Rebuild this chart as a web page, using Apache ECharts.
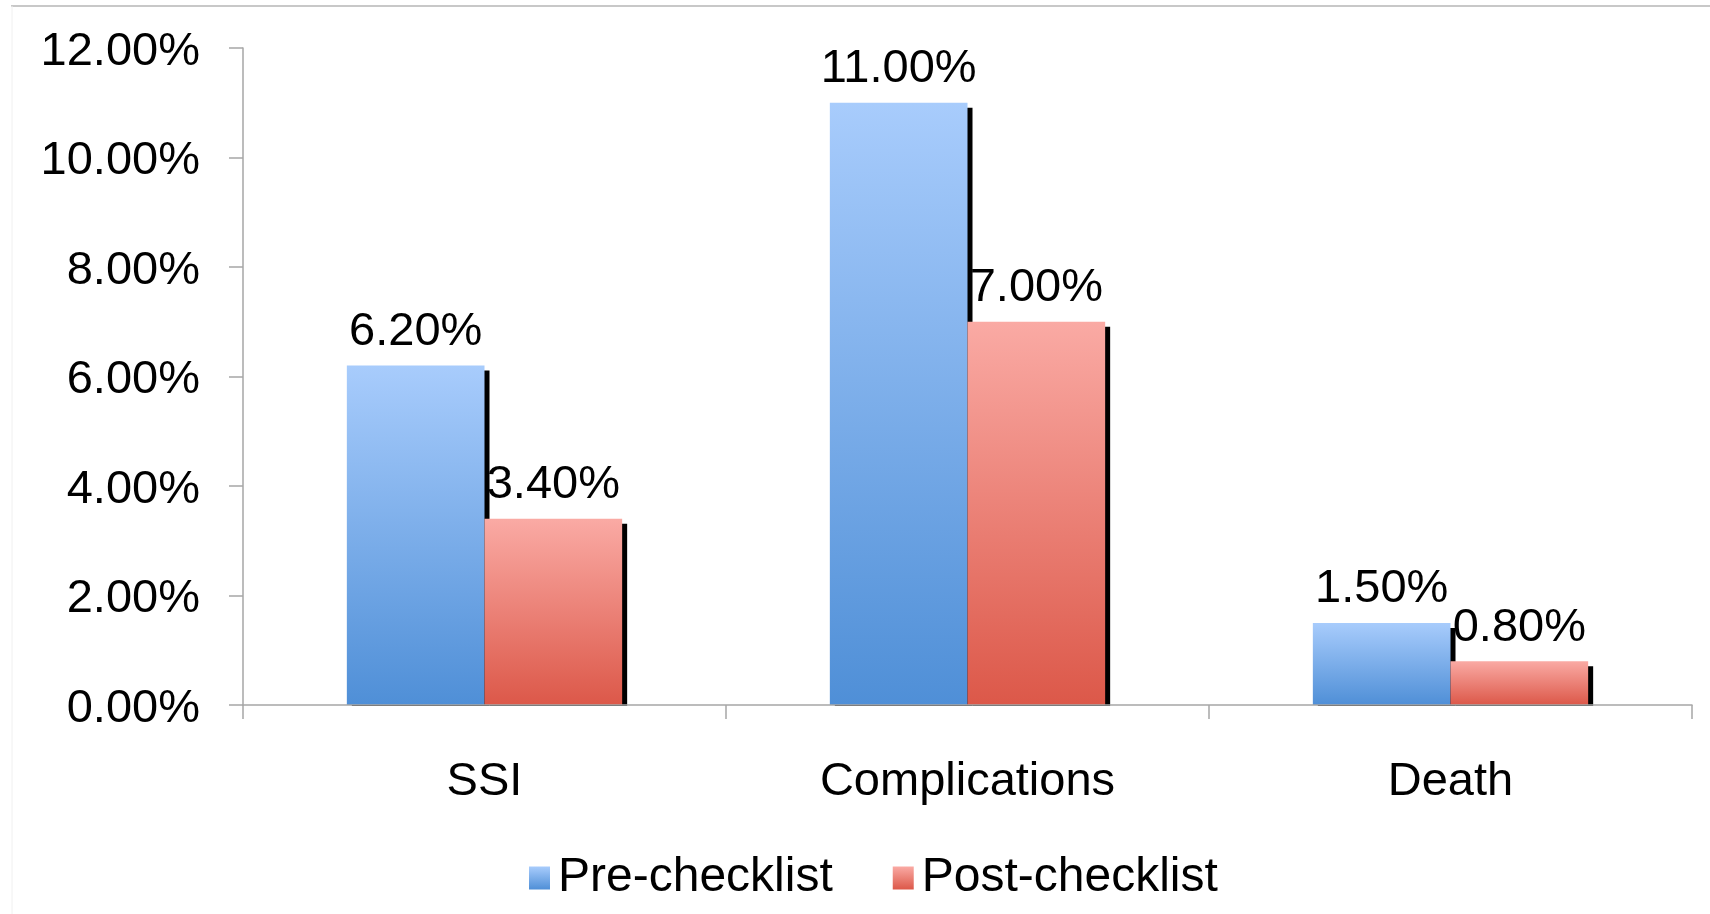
<!DOCTYPE html>
<html>
<head>
<meta charset="utf-8">
<title>Checklist outcomes</title>
<script src="https://cdn.jsdelivr.net/npm/echarts@6/dist/echarts.min.js"></script>
<style>
  html, body { margin: 0; padding: 0; background: #ffffff; }
  #chart { width: 1710px; height: 914px; }
</style>
</head>
<body>
<div id="chart"></div>
<script>
// Outcome rates before and after introducing the surgical checklist (percent)
const categories = ['SSI', 'Complications', 'Death'];
const preChecklist = [6.2, 11.0, 1.5];
const postChecklist = [3.4, 7.0, 0.8];
const seriesNames = ['Pre-checklist', 'Post-checklist'];
const yTicks = { min: 0, max: 12, interval: 2 };

const FONT = "'Liberation Sans', Arial, sans-serif";
const fmtPct = v => Number(v).toFixed(2) + '%';

function vGradient(top, bottom) {
  return new echarts.graphic.LinearGradient(0, 0, 0, 1, [
    { offset: 0, color: top },
    { offset: 1, color: bottom }
  ]);
}

const barStyle = (top, bottom) => ({
  color: vGradient(top, bottom),
  shadowColor: '#000000',
  shadowBlur: 0,
  shadowOffsetX: 5,
  shadowOffsetY: 5
});

const valueLabel = {
  show: true,
  position: 'top',
  distance: 10,
  color: '#000000',
  fontFamily: FONT,
  fontSize: 47,
  formatter: p => fmtPct(p.value)
};

const chart = echarts.init(document.getElementById('chart'), null, { renderer: 'canvas' });

const gridLeft = 243, gridRight = 18, gridTop = 48, gridBottom = 209;

chart.setOption({
  backgroundColor: '#ffffff',
  animation: false,
  textStyle: { fontFamily: FONT },
  grid: { left: gridLeft, right: gridRight, top: gridTop, bottom: gridBottom, containLabel: false },
  graphic: [
    // thin frame along the top and left edge of the slide
    { type: 'line', z: 1, shape: { x1: 11, y1: 6, x2: 1710, y2: 6 }, style: { stroke: '#c8c8c8', lineWidth: 2 } },
    { type: 'line', z: 1, shape: { x1: 12, y1: 6, x2: 12, y2: 914 }, style: { stroke: '#f0f0f0', lineWidth: 1 } },
    // keeps the bar shadows from running below the baseline
    { type: 'rect', z: 5, shape: { x: gridLeft + 1, y: 914 - gridBottom + 1, width: 1710 - gridLeft, height: 7 }, style: { fill: '#ffffff' } }
  ],
  legend: {
    data: seriesNames,
    left: 524,
    top: 849,
    itemWidth: 21,
    itemHeight: 23,
    itemGap: 60,
    icon: 'rect',
    textStyle: { color: '#000000', fontFamily: FONT, fontSize: 48, padding: [0, 0, 0, 3] },
    itemStyle: { shadowBlur: 0, shadowOffsetX: 0, shadowOffsetY: 0, shadowColor: 'rgba(0,0,0,0)' }
  },
  xAxis: {
    type: 'category',
    data: categories,
    z: 10,
    axisLine: { show: true, lineStyle: { color: '#a6a6a6', width: 1.5 } },
    axisTick: { show: true, inside: false, length: 14, alignWithLabel: false, lineStyle: { color: '#a6a6a6', width: 1.5 } },
    axisLabel: { color: '#000000', fontFamily: FONT, fontSize: 47, margin: 54 },
    splitLine: { show: false }
  },
  yAxis: {
    type: 'value',
    min: yTicks.min,
    max: yTicks.max,
    interval: yTicks.interval,
    z: 10,
    axisLine: { show: true, lineStyle: { color: '#a6a6a6', width: 1.5 } },
    axisTick: { show: true, inside: false, length: 14, lineStyle: { color: '#a6a6a6', width: 1.5 } },
    axisLabel: {
      color: '#000000', fontFamily: FONT, fontSize: 47, margin: 43,
      verticalAlign: 'top', lineHeight: 8,
      formatter: v => fmtPct(v)
    },
    splitLine: { show: false }
  },
  series: [
    {
      name: seriesNames[0],
      type: 'bar',
      z: 2,
      data: preChecklist,
      barGap: '0%',
      barCategoryGap: '43%',
      itemStyle: barStyle('#a8ccfc', '#4f8fd7'),
      label: valueLabel
    },
    {
      name: seriesNames[1],
      type: 'bar',
      z: 2,
      data: postChecklist,
      barGap: '0%',
      barCategoryGap: '43%',
      itemStyle: barStyle('#faaaa4', '#dc5849'),
      label: valueLabel
    }
  ]
});
</script>
</body>
</html>
